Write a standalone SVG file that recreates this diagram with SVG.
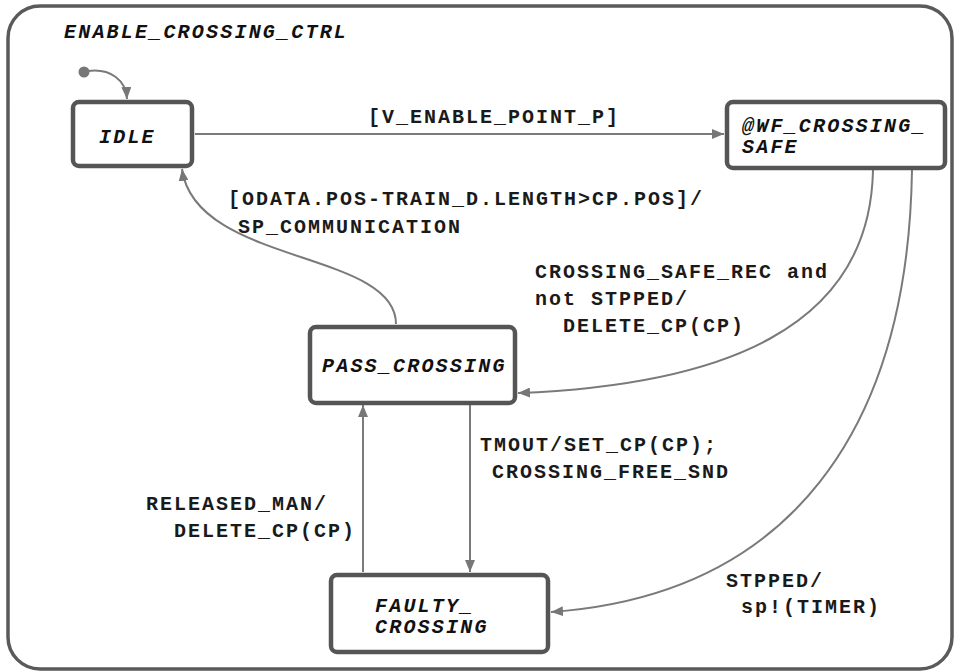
<svg xmlns="http://www.w3.org/2000/svg" width="954" height="671" viewBox="0 0 954 671">
  <style>
    .frame { fill: #ffffff; stroke: #5a5a5a; stroke-width: 3.5; }
    .state rect { fill: #ffffff; stroke: #555555; stroke-width: 4.5; }
    .state text, .title { font-family: "Liberation Mono", "Courier New", monospace; font-weight: bold; font-style: italic; font-size: 20px; letter-spacing: 2.2px; fill: #111111; }
    .edge { fill: none; stroke: #7a7a7a; stroke-width: 2; }
    .lbl { font-family: "Liberation Mono", "Courier New", monospace; font-weight: bold; font-size: 20px; letter-spacing: 2px; fill: #1a1a1a; }
  </style>
  <defs>
    <marker id="arrow" viewBox="0 0 12 10" refX="12" refY="5" markerWidth="12" markerHeight="10" markerUnits="userSpaceOnUse" orient="auto">
      <path d="M0,0 L12,5 L0,10 z" fill="#777777"/>
    </marker>
  </defs>

  <!-- enclosing super-state -->
  <rect class="frame" x="8" y="6" width="944" height="663" rx="32" ry="32"/>
  <text class="title" x="64" y="38">ENABLE_CROSSING_CTRL</text>

  <!-- transitions -->
  <g id="connectors">
    <circle cx="84" cy="72" r="5.5" fill="#777777"/>
    <path class="edge" d="M88,71 C110,68 126,80 127,99" marker-end="url(#arrow)"/>
    <path class="edge" d="M195,134 L724,134" marker-end="url(#arrow)"/>
    <path class="edge" d="M396,324 C396,250 195,265 182,169" marker-end="url(#arrow)"/>
    <path class="edge" d="M873,170 C870,330 720,385 518,393" marker-end="url(#arrow)"/>
    <path class="edge" d="M912,170 C908,430 790,595 551,612" marker-end="url(#arrow)"/>
    <path class="edge" d="M470,405 L470,572" marker-end="url(#arrow)"/>
    <path class="edge" d="M363,572 L363,405" marker-end="url(#arrow)"/>

    <text class="lbl" x="368" y="123">[V_ENABLE_POINT_P]</text>
    <text class="lbl" x="228" y="205">[ODATA.POS-TRAIN_D.LENGTH&gt;CP.POS]/</text>
    <text class="lbl" x="238" y="233">SP_COMMUNICATION</text>
    <text class="lbl" x="535" y="278">CROSSING_SAFE_REC and</text>
    <text class="lbl" x="535" y="305">not STPPED/</text>
    <text class="lbl" x="563" y="332">DELETE_CP(CP)</text>
    <text class="lbl" x="480" y="451">TMOUT/SET_CP(CP);</text>
    <text class="lbl" x="492" y="478">CROSSING_FREE_SND</text>
    <text class="lbl" x="146" y="510">RELEASED_MAN/</text>
    <text class="lbl" x="174" y="537">DELETE_CP(CP)</text>
    <text class="lbl" x="726" y="587">STPPED/</text>
    <text class="lbl" x="741" y="613">sp!(TIMER)</text>
  </g>

  <!-- states -->
  <g id="idle" class="state">
    <rect x="73" y="102" width="119" height="64" rx="6"/>
    <text x="99" y="143">IDLE</text>
  </g>
  <g id="wf_crossing_safe" class="state">
    <rect x="727" y="102" width="218" height="66" rx="6"/>
    <text x="742" y="132">@WF_CROSSING_</text>
    <text x="742" y="153">SAFE</text>
  </g>
  <g id="pass_crossing" class="state">
    <rect x="310" y="327" width="205" height="76" rx="6"/>
    <text x="322" y="372">PASS_CROSSING</text>
  </g>
  <g id="faulty_crossing" class="state">
    <rect x="331" y="575" width="217" height="77" rx="6"/>
    <text x="375" y="612">FAULTY_</text>
    <text x="375" y="633">CROSSING</text>
  </g>
</svg>
